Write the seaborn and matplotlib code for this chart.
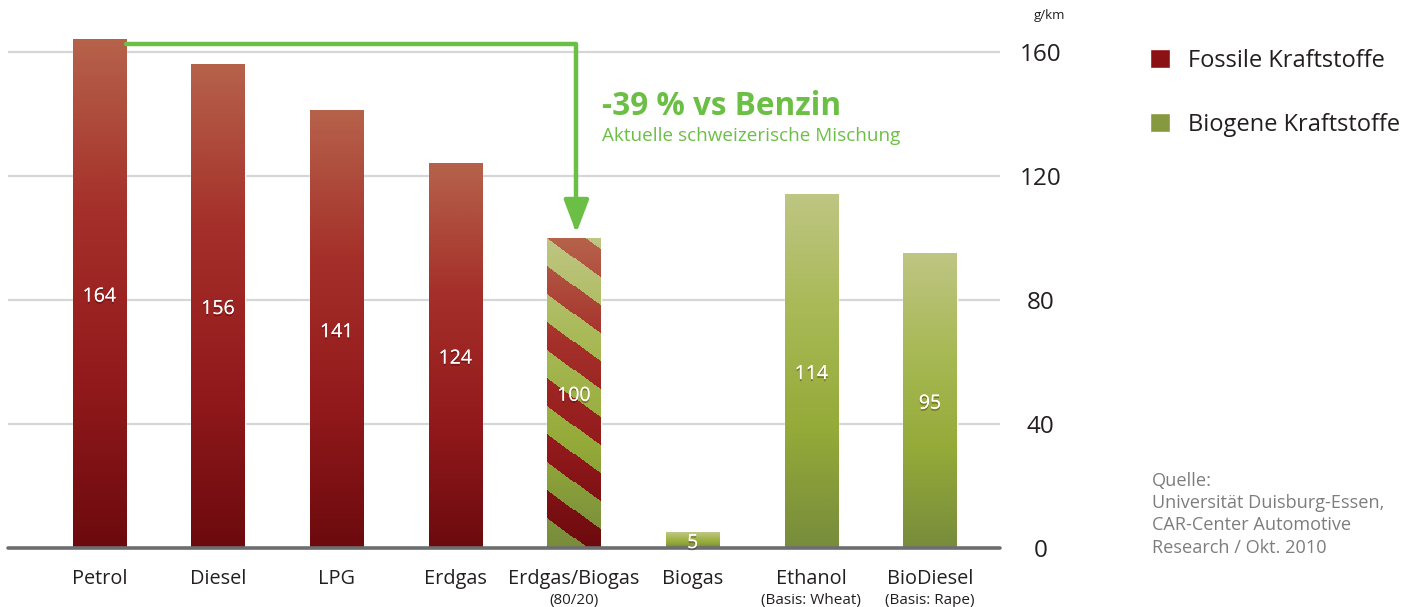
import numpy as np
import pandas as pd
import matplotlib.pyplot as plt
import seaborn as sns
from matplotlib.patches import Patch
from matplotlib import patheffects as pe
from matplotlib.colors import LinearSegmentedColormap

# Data
kraftstoffe = ['Petrol', 'Diesel', 'LPG', 'Erdgas', 'Erdgas/Biogas', 'Biogas', 'Ethanol', 'BioDiesel']
untertitel = ['', '', '', '', '(80/20)', '', '(Basis: Wheat)', '(Basis: Rape)']
co2 = [164, 156, 141, 124, 100, 5, 114, 95]
typ = ['fossil', 'fossil', 'fossil', 'fossil', 'mix', 'bio', 'bio', 'bio']
y_ticks = [0, 40, 80, 120, 160]
legende = ['Fossile Kraftstoffe', 'Biogene Kraftstoffe']
quelle = 'Quelle:\nUniversität Duisburg-Essen,\nCAR-Center Automotive\nResearch / Okt. 2010'

ROT = '#8b1114'
GRUEN = '#87993f'
PFEIL = '#6cbf45'
TEXT = '#231f20'

sns.set_theme(style='white')
plt.rcParams['font.family'] = ['Open Sans', 'DejaVu Sans']

fig = plt.figure(figsize=(14.26, 6.07), dpi=100)
ax = fig.add_axes([8 / 1426, 59 / 607, 992 / 1426, 527 / 607])

df = pd.DataFrame({'Kraftstoff': kraftstoffe, 'CO2': co2, 'Typ': typ})
sns.barplot(data=df, x='Kraftstoff', y='CO2', hue='Typ',
            palette={'fossil': ROT, 'bio': GRUEN, 'mix': GRUEN},
            dodge=False, width=0.45, legend=False, ax=ax, zorder=2)

XLIM = (-0.77, 7.59)
YLIM = (0, 170)
ax.set_xlim(*XLIM)
ax.set_ylim(*YLIM)

# gradient fills (bottom -> top)
rot_cmap = LinearSegmentedColormap.from_list('rot', ['#6c0a0e', '#931a1c', '#a5302a', '#b6624b'])
gruen_cmap = LinearSegmentedColormap.from_list('gruen', ['#788c3c', '#94aa38', '#a8b955', '#bfc583'])

for p in list(ax.patches):
    x0, w, h = p.get_x(), p.get_width(), p.get_height()
    if h <= 0:
        continue
    i = int(round(x0 + w / 2))
    (px0, py0), (px1, py1) = ax.transData.transform([(x0, 0), (x0 + w, h)])
    nx, ny = max(int(round(px1 - px0)), 2), max(int(round(py1 - py0)), 2)
    t = np.linspace(1, 0, ny)[:, None]
    if typ[i] == 'mix':
        yy, xx = np.mgrid[0:ny, 0:nx]
        phase = ((yy - 0.74 * xx) / 56.0) % 1.0
        mask = (phase < 0.5)[..., None]
        img = np.where(mask, gruen_cmap(t), rot_cmap(t))
        interp = 'nearest'
    else:
        cmap = rot_cmap if typ[i] == 'fossil' else gruen_cmap
        img = cmap(t)
        interp = 'bilinear'
    ax.imshow(img, extent=(x0, x0 + w, 0, h), aspect='auto', origin='upper',
              interpolation=interp, zorder=2.1)

ax.set_xlim(*XLIM)
ax.set_ylim(*YLIM)

# value labels
schatten = [pe.withSimplePatchShadow(offset=(0, -1.5), shadow_rgbFace='#300000', alpha=0.35), pe.Normal()]
for i, v in enumerate(co2):
    ax.annotate(str(v), xy=(i, v / 2), xytext=(0, -2), textcoords='offset points',
                ha='center', va='center', color='white', fontsize=14, zorder=5,
                path_effects=schatten)

# grid and baseline
ax.set_yticks(y_ticks)
ax.yaxis.grid(True, color='#d4d6d7', lw=1.6)
ax.xaxis.grid(False)
ax.set_axisbelow(True)
ax.axhline(0, color='#6d6e70', lw=2.6, zorder=3, clip_on=False)
sns.despine(ax=ax, left=True, bottom=True, right=True, top=True)

ax.yaxis.tick_right()
ax.tick_params(axis='y', length=0, pad=29, labelsize=17.5, labelcolor=TEXT)
plt.setp(ax.get_yticklabels(), ha='center')

ax.set_xticks(range(len(kraftstoffe)))
ax.set_xticklabels(kraftstoffe)
ax.tick_params(axis='x', length=0, pad=15, labelsize=14.3, labelcolor=TEXT)
ax.set_xlabel('')
ax.set_ylabel('')

for i, s in enumerate(untertitel):
    if s:
        ax.annotate(s, xy=(i, 0), xytext=(0, -37.5), textcoords='offset points',
                    ha='center', va='center', fontsize=11, color=TEXT, annotation_clip=False)

# arrow from Petrol to the mix bar
ax.annotate('', xy=(4.02, 101.6), xytext=(0.225, 162.7),
            arrowprops=dict(arrowstyle='-|>,head_length=1.0,head_width=0.38',
                            connectionstyle='angle,angleA=0,angleB=90,rad=0',
                            color=PFEIL, lw=3.2, shrinkA=0, shrinkB=0,
                            mutation_scale=20),
            zorder=4)
ax.text(4.233, 142.5, '-39 % vs Benzin', color=PFEIL, fontsize=22.7,
        fontweight='bold', ha='left', va='center')
ax.text(4.233, 132.9, 'Aktuelle schweizerische Mischung', color=PFEIL,
        fontsize=13.6, ha='left', va='center')

# legend
handles = [Patch(facecolor=ROT, label=legende[0]), Patch(facecolor=GRUEN, label=legende[1])]
fig.legend(handles=handles, loc='upper left', bbox_to_anchor=(1150 / 1426, 1 - 49 / 607),
           frameon=False, fontsize=17, handlelength=0.85, handleheight=0.85,
           handletextpad=0.76, labelspacing=1.68, borderpad=0, borderaxespad=0,
           labelcolor=TEXT)

fig.text(1050 / 1426, 1 - 16 / 607, 'g/km', fontsize=9.5, ha='center', va='center', color=TEXT)
fig.text(1152 / 1426, 1 - 472 / 607, quelle, fontsize=13.1, color='#7d7d7d',
         va='top', ha='left', linespacing=1.3)

fig.savefig('out.png', dpi=100)
